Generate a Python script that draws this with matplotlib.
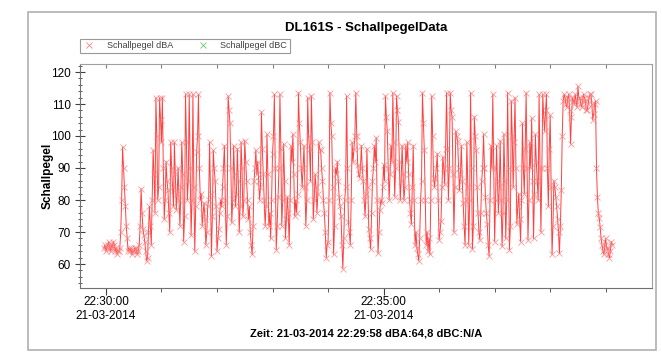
import numpy as np
import pandas as pd
import matplotlib
matplotlib.use("Agg")
import matplotlib.pyplot as plt
import matplotlib.dates as mdates
from matplotlib.patches import Rectangle
from matplotlib.lines import Line2D

# dBA readings, one per second starting 22:29:58
dba = [65, 66, 64, 65, 66, 67, 65, 64, 66, 65, 67, 66, 64, 65, 63, 64, 64, 65,
       70, 80, 96.5, 90, 84, 78, 72, 68, 64, 65,
       64, 65, 63, 64, 64, 65, 65, 64, 63, 64,
       66, 72, 83.5, 76, 71, 69, 67, 64, 61, 62,
       70, 78, 72, 66, 80, 95.5, 88, 76, 112, 100,
       80, 84, 112, 105, 98, 112, 90, 74, 80, 92, 86, 83, 76, 70,
       98, 90, 84, 78, 98, 88, 77, 82, 90, 80, 72, 84, 98, 88, 67, 75,
       113, 98, 80, 86, 113, 90, 69, 80, 113, 84, 64, 78, 95, 100, 113, 90,
       80, 82, 72, 76, 79, 74, 66, 70, 78, 80,
       98, 82, 62.5, 75, 95.5, 90, 86, 78, 64, 68, 71, 76, 80, 78,
       84, 90, 97, 80, 66, 75, 112.5, 108, 104, 90,
       73, 80, 97, 88, 78, 82, 96, 86, 70, 78, 98, 90, 75, 80,
       98.5, 92, 86, 80, 74, 78, 70, 66, 63, 72, 86, 90, 95.5, 88,
       92, 86, 80, 84, 107.5, 96, 88, 80, 72, 78,
       100.5, 88, 72, 76, 68, 80, 94.5, 100, 113, 90, 64.5, 72, 81, 90, 113, 96,
       72, 80, 97.5, 86, 68, 74, 81, 76, 66, 80, 97, 92, 100.5, 88, 75, 80, 76, 82,
       113.5, 104, 98, 90, 84, 90, 97, 84, 72, 80, 112, 100, 96, 86, 112.5, 98,
       74, 80, 88, 84, 76, 82, 98, 96,
       95.5, 90, 86, 80, 76, 70, 62, 66, 67, 80, 113.5, 104, 100, 84, 63, 72, 90, 88,
       92, 86, 81, 78, 75, 66, 58.5, 68, 80, 84,
       112.5, 90, 73, 70, 66, 80,
       98, 92, 96, 100, 113.5, 100, 91, 88, 87, 90,
       97, 90, 86, 80, 75, 82, 96, 84, 71, 68, 64.7, 76, 86, 90, 97, 92,
       99.5, 80, 63.3, 70, 77, 80, 79, 84, 91, 86,
       112.5, 106, 101.5, 90, 80, 88, 97, 92,
       113.5, 98, 81, 90, 112.5, 108, 104.5, 92, 80, 86, 97, 88, 80, 84,
       97, 92, 98, 88, 80, 76, 72.5, 84, 97, 80, 66, 70, 65, 63, 61, 68, 80, 86,
       113.5, 104, 95.5, 80, 66, 70, 64, 68, 63, 80, 112.5, 100, 87, 84,
       87, 90, 94.5, 80, 67.5, 70, 73.5, 84, 93.5, 90,
       85, 96, 113.5, 96, 80, 90, 113.5, 108, 106, 88, 70, 84, 101.5, 100, 98.5, 90,
       83, 88, 97, 86, 79, 72, 66, 80,
       98, 84, 66, 80, 113.5, 90, 64.7, 72,
       106, 100, 95.5, 84, 76, 70, 67.5, 76, 86, 90,
       100.5, 90, 81, 76, 72.5, 66, 62.5, 80, 97, 90,
       113, 90, 67, 80, 97, 86, 76, 84, 98.5, 80, 65.5, 76, 100.5, 86, 68, 80,
       113.5, 90, 64.5, 72,
       111, 100, 84, 98, 112, 90, 72.5, 78, 82, 74, 67, 80,
       104, 90, 82, 96, 113.5, 90, 67.5, 80, 98, 90,
       105.5, 86, 68, 82, 100.5, 92, 86, 80,
       113, 90, 70, 90, 113, 106, 101.5, 108, 113, 90, 78, 96, 106.5, 84, 63, 72, 86, 84,
       81, 78, 74, 70, 63.3, 72,
       83, 100, 111, 113, 112, 110, 109, 112, 113, 108, 97.5, 106, 112, 111, 110, 113,
       111, 109, 115.5, 112, 112, 110, 109, 111, 113, 112, 111, 108, 108, 110, 112, 113,
       113, 110, 105, 107, 110, 111,
       90, 81, 76, 74.5, 71.5, 68,
       66, 64, 63, 66, 68, 65, 65, 63, 62, 64, 67, 66]
dbc = []  # N/A

start = "2014-03-21 22:29:58"
times = pd.date_range(start, periods=len(dba), freq="1s")

plt.rcParams['font.family'] = ['Liberation Sans', 'DejaVu Sans']

fig = plt.figure(figsize=(6.62, 3.55), dpi=100)
fig.patches.append(Rectangle((28 / 662, 5 / 355), 628 / 662, 338 / 355,
                             transform=fig.transFigure, fill=False,
                             edgecolor='#b0b0b0', lw=1.2))
ax = fig.add_axes([80 / 662, 1 - 288 / 355, 572 / 662, 224 / 355])

ax.plot(times, dba, color='#ff0000', lw=0.7, alpha=0.75,
        marker='x', ms=4.5, mew=0.6, mec='#ff7878')
ax.plot(times[:0], dbc, color='#40d040', lw=0)

ax.set_ylim(52.5, 122.5)
ax.set_xlim(pd.Timestamp("2014-03-21 22:29:32"), pd.Timestamp("2014-03-21 22:39:50"))
ax.set_yticks(np.arange(60, 121, 10))
ax.yaxis.set_minor_locator(plt.MultipleLocator(2))
ax.xaxis.set_major_locator(mdates.MinuteLocator(byminute=range(0, 60, 5)))
ax.xaxis.set_minor_locator(mdates.MinuteLocator())
ax.xaxis.set_major_formatter(mdates.DateFormatter('%H:%M:%S\n%d-%m-%Y'))

for s in ['top', 'right']:
    ax.spines[s].set_color('#a0a0a0')
for s in ['left', 'bottom']:
    ax.spines[s].set_color('#707070')

ax.tick_params(axis='y', which='major', direction='inout', length=7, labelsize=8.5,
               color='#404040', pad=3)
ax.tick_params(axis='y', which='minor', direction='inout', length=3, color='#404040')
ax.tick_params(axis='x', which='major', direction='out', length=5, labelsize=8.5,
               color='#404040', pad=1)
ax.tick_params(axis='x', which='minor', direction='out', length=3, color='#404040')
for lbl in ax.get_xticklabels():
    lbl.set_linespacing(1.15)

top = ax.secondary_xaxis('top', functions=(lambda v: v, lambda v: v))
top.xaxis.set_major_locator(mdates.MinuteLocator())
top.tick_params(axis='x', direction='in', length=3, color='#808080', labelsize=0)
top.set_xticklabels([])
top.spines['top'].set_visible(False)

ax.set_ylabel('Schallpegel', fontsize=8.5, fontweight='bold')
ax.yaxis.set_label_coords((54 - 80) / 572, 0.5)

fig.text(366 / 662, 1 - 28 / 355, 'DL161S - SchallpegelData', ha='center', va='center',
         fontsize=9.5, fontweight='bold')
fig.text(366 / 662, 1 - 333 / 355, 'Zeit: 21-03-2014 22:29:58 dBA:64,8 dBC:N/A',
         ha='center', va='center', fontsize=8, fontweight='bold')

handles = [Line2D([], [], lw=0, marker='x', ms=5, mew=0.6, mec='#ff8080'),
           Line2D([], [], lw=0, marker='x', ms=5, mew=0.6, mec='#60d060')]
leg = ax.legend(handles, ['Schallpegel dBA', 'Schallpegel dBC'],
                loc='lower left', bbox_to_anchor=(0.0, 1 + 11 / 224), borderaxespad=0,
                ncol=2, fontsize=6.5, frameon=True, fancybox=False,
                edgecolor='#808080', borderpad=0.3, handlelength=1.5,
                columnspacing=2.5, handletextpad=1.2)
leg.get_frame().set_linewidth(0.8)
for t in leg.get_texts():
    t.set_color('#404040')

fig.savefig('out.png', dpi=100)
